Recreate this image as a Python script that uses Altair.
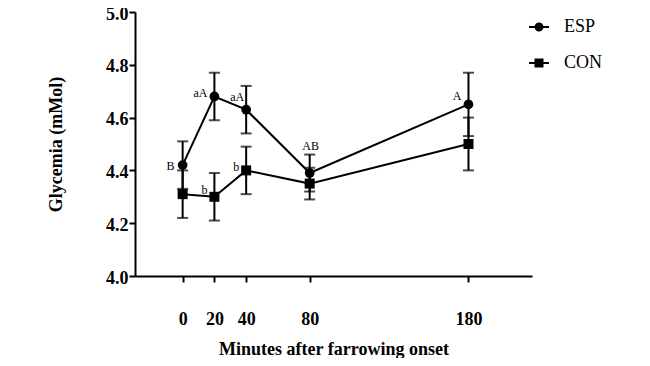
import altair as alt
import pandas as pd

# ---- data ----
times = [0, 20, 40, 80, 180]
esp_mean = [4.42, 4.68, 4.63, 4.39, 4.65]
esp_err = [0.09, 0.09, 0.09, 0.07, 0.12]
con_mean = [4.31, 4.30, 4.40, 4.35, 4.50]
con_err = [0.09, 0.09, 0.09, 0.06, 0.10]
series_names = ["ESP", "CON"]

ann_text = ["B", "aA", "aA", "AB", "A", "b", "b"]
ann_series = ["ESP", "ESP", "ESP", "ESP", "ESP", "CON", "CON"]
ann_time = [0, 20, 40, 80, 180, 20, 40]

# label offsets (style, pixels) and alignments
ann_dx = [-8, -7, -2, 1, -7, -7, -7]
ann_dy = [5, 1, -9, -23, -4, -3, 1]
ann_align = ["right", "right", "right", "center", "right", "right", "right"]

rows = []
for name, means, errs in [("ESP", esp_mean, esp_err), ("CON", con_mean, con_err)]:
    for t, m, e in zip(times, means, errs):
        rows.append({"time": t, "mean": m, "lo": round(m - e, 3), "hi": round(m + e, 3), "series": name})
df = pd.DataFrame(rows)

FONT = "Liberation Serif"

xs = alt.Scale(domain=[-30, 220], nice=False, zero=False)
ys = alt.Scale(domain=[4.0, 5.0], nice=False, zero=False)

x_enc = alt.X("time:Q", scale=xs,
              axis=alt.Axis(values=times, title="Minutes after farrowing onset",
                            grid=False, domainColor="black", domainWidth=2,
                            tickColor="black", tickWidth=2, tickSize=6,
                            labelFont=FONT, labelFontSize=18, labelFontWeight="bold",
                            labelColor="black", labelPadding=28,
                            titleFont=FONT, titleFontSize=18, titleFontWeight="bold",
                            titleColor="black", titlePadding=12))
y_enc = alt.Y("mean:Q", scale=ys,
              axis=alt.Axis(values=[4.0, 4.2, 4.4, 4.6, 4.8, 5.0], format=".1f",
                            title="Glycemia (mMol)", grid=False,
                            domainColor="black", domainWidth=2,
                            tickColor="black", tickWidth=2, tickSize=6,
                            labelFont=FONT, labelFontSize=18, labelFontWeight="bold",
                            labelColor="black", labelPadding=1, labelOffset=2,
                            titleFont=FONT, titleFontSize=18, titleFontWeight="bold",
                            titleColor="black", titlePadding=40))

base = alt.Chart(df)

lines = base.mark_line(color="black", strokeWidth=2).encode(
    x=x_enc, y=y_enc, detail="series:N")

bars = base.mark_rule(color="black", strokeWidth=2).encode(
    x="time:Q", y="lo:Q", y2="hi:Q")

caps_lo = base.mark_tick(color="black", thickness=2, size=11, orient="horizontal").encode(
    x="time:Q", y="lo:Q")
caps_hi = base.mark_tick(color="black", thickness=2, size=11, orient="horizontal").encode(
    x="time:Q", y="hi:Q")

pts_esp = base.transform_filter(alt.datum.series == "ESP").mark_point(
    shape="circle", filled=True, color="black", size=95, opacity=1).encode(
    x="time:Q", y="mean:Q")
pts_con = base.transform_filter(alt.datum.series == "CON").mark_point(
    shape="square", filled=True, color="black", size=100, opacity=1).encode(
    x="time:Q", y="mean:Q")

# legend symbols: a line through a marker (marker drawn as nested strokes)
circle_path = ("M-1,0H1"
               "M0.35,0A0.35,0.35,0,1,1,-0.35,0A0.35,0.35,0,1,1,0.35,0"
               "M0.15,0A0.15,0.15,0,1,1,-0.15,0A0.15,0.15,0,1,1,0.15,0")
square_path = ("M-1,0H1"
               "M-0.35,-0.35H0.35V0.35H-0.35Z"
               "M-0.15,-0.15H0.15V0.15H-0.15Z")

legend_layer = base.mark_point(filled=False, color="black", strokeWidth=2,
                               opacity=0).encode(
    x="time:Q", y="mean:Q",
    shape=alt.Shape("series:N",
                    scale=alt.Scale(domain=series_names, range=[circle_path, square_path]),
                    legend=alt.Legend(title=None, orient="none", legendX=393, legendY=4,
                                      symbolSize=400,
                                      symbolStrokeColor="black", symbolStrokeWidth=2,
                                      symbolOpacity=1, labelFont=FONT, labelFontSize=18,
                                      labelColor="black", labelOffset=14, rowPadding=16,
                                      padding=0)))

layers = [lines, bars, caps_lo, caps_hi, pts_esp, pts_con, legend_layer]

lookup = {(r["series"], r["time"]): r["mean"] for r in rows}
for i, txt in enumerate(ann_text):
    d = pd.DataFrame([{"time": ann_time[i], "mean": lookup[(ann_series[i], ann_time[i])],
                       "label": txt}])
    layers.append(alt.Chart(d).mark_text(font=FONT, fontSize=12, color="black",
                                         align=ann_align[i], baseline="alphabetic",
                                         dx=ann_dx[i], dy=ann_dy[i]).encode(
        x="time:Q", y="mean:Q", text="label:N"))

chart = alt.layer(*layers).properties(
    width=397, height=264,
    autosize=alt.AutoSizeParams(type="none"),
    padding={"left": 127, "top": 4, "right": 100, "bottom": 82},
).configure_view(stroke=None).configure_axis(
    labelFont=FONT, titleFont=FONT
).configure_legend(labelFont=FONT)

chart.save("out.html", embed_options={"renderer": "svg", "actions": False})
